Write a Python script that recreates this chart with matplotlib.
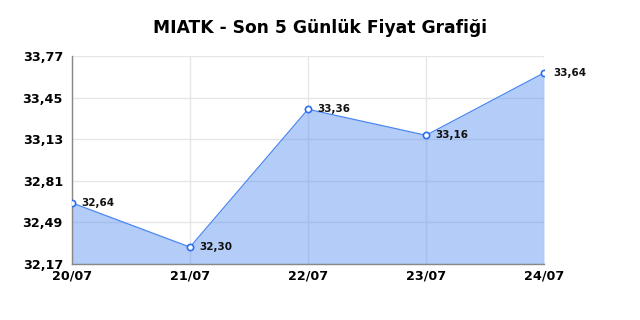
import matplotlib
matplotlib.use("Agg")
import matplotlib.pyplot as plt

# veri
dates = ["20/07", "21/07", "22/07", "23/07", "24/07"]
prices = [32.64, 32.30, 33.36, 33.16, 33.64]
yticks = [32.17, 32.49, 32.81, 33.13, 33.45, 33.77]

def tr(v):
    return f"{v:.2f}".replace(".", ",")

fig = plt.figure(figsize=(6.4, 3.2), dpi=100)
ax = fig.add_axes([0.1125, 0.175, 0.7375, 0.65])

x = list(range(len(dates)))
ax.fill_between(x, prices, yticks[0], color="#5a8ff0", alpha=0.45, lw=0, zorder=2)
ax.plot(x, prices, color="#4a86f0", lw=0.9, zorder=3)
ax.plot(x, prices, ls="none", marker="o", ms=4.5, mfc="white", mec="#2a6ff0", mew=1.2, zorder=4)
for xi, p in zip(x, prices):
    ax.annotate(tr(p), (xi, p), xytext=(7, 0), textcoords="offset points",
                va="center", ha="left", fontsize=7.5, fontweight="bold", color="#111111", zorder=5)

ax.set_xlim(0, len(dates) - 1)
ax.set_ylim(yticks[0], yticks[-1])
ax.set_xticks(x)
ax.set_xticklabels(dates, fontsize=9.2, fontweight="bold")
ax.set_yticks(yticks)
ax.set_yticklabels([tr(v) for v in yticks], fontsize=9.2, fontweight="bold")
ax.tick_params(length=0)
ax.tick_params(axis="x", pad=4)
ax.tick_params(axis="y", pad=6.5)
ax.grid(True, color="#e6e6e6", lw=1, zorder=1)
ax.set_axisbelow(True)
for s in ("top", "right"):
    ax.spines[s].set_visible(False)
for s in ("left", "bottom"):
    ax.spines[s].set_color("#888888")
    ax.spines[s].set_linewidth(1)

fig.suptitle("MIATK - Son 5 Günlük Fiyat Grafiği", x=0.5, y=0.94, fontsize=12.3, fontweight="bold")
fig.savefig("out.png", dpi=100)
